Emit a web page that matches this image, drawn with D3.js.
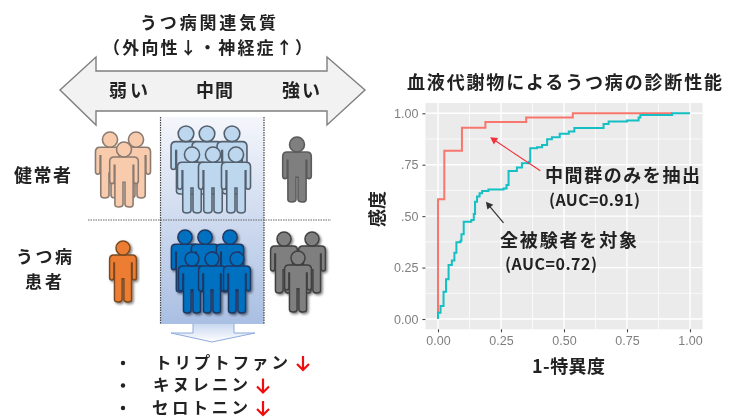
<!DOCTYPE html>
<html>
<head>
<meta charset="utf-8">
<script src="https://cdn.jsdelivr.net/npm/d3@7"></script>
<style>
  html, body { margin: 0; padding: 0; background: #fff; }
  svg { display: block; }
  text { font-family: "Noto Sans CJK JP", "Noto Sans", sans-serif; }
</style>
</head>
<body>
<svg id="chart"></svg>
<script>
// ROC curves
const midFpr = [0, 0, 0.025, 0.095, 0.188, 0.35, 0.535, 0.93];
const midTpr = [0, 0.582, 0.818, 0.93, 0.958, 0.979, 1, 1];
const allFpr = [0, 0, 0.01, 0.022, 0.032, 0.042, 0.055, 0.065, 0.073, 0.089, 0.093, 0.102, 0.132, 0.142, 0.147, 0.155, 0.165, 0.175, 0.2, 0.26, 0.272, 0.28, 0.313, 0.333, 0.36, 0.366, 0.393, 0.413, 0.433, 0.452, 0.483, 0.519, 0.541, 0.657, 0.677, 0.75, 0.796, 0.803, 0.836, 0.929, 1];
const allTpr = [0, 0.03, 0.063, 0.133, 0.193, 0.263, 0.284, 0.322, 0.373, 0.381, 0.412, 0.473, 0.481, 0.51, 0.57, 0.595, 0.611, 0.622, 0.63, 0.635, 0.652, 0.72, 0.737, 0.757, 0.765, 0.83, 0.835, 0.846, 0.874, 0.883, 0.9, 0.911, 0.929, 0.948, 0.96, 0.965, 0.98, 0.992, 0.992, 1, 1];
const majorTicks = [0, 0.25, 0.5, 0.75, 1];
const minorTicks = [0.125, 0.375, 0.625, 0.875];
const xTickLabels = ['0.00', '0.25', '0.50', '0.75', '1.00'];
const yTickLabels = ['0.00', '0.25', '.50', '.75', '1.00'];
const metabolites = ['トリプトファン', 'キヌレニン', 'セロトニン'];

const width = 734;
const height = 418;
const font = 'bold';

const svg = d3.select('#chart').attr('width', width).attr('height', height);
const defs = svg.append('defs');

// the reference is a soft, upscaled image
defs.append('filter').attr('id', 'soft')
  .attr('filterUnits', 'userSpaceOnUse')
  .attr('x', 0).attr('y', 0).attr('width', width).attr('height', height)
  .append('feGaussianBlur').attr('stdDeviation', 0.6);

defs.append('filter').attr('id', 'shadow')
  .append('feDropShadow')
  .attr('dx', 1.5).attr('dy', 1.5).attr('stdDeviation', 1.3)
  .attr('flood-color', '#000').attr('flood-opacity', 0.5);

const bandGrad = defs.append('linearGradient').attr('id', 'band')
  .attr('x1', 0).attr('y1', 0).attr('x2', 0).attr('y2', 1);
bandGrad.append('stop').attr('offset', 0).attr('stop-color', '#f4f6fb');
bandGrad.append('stop').attr('offset', 1).attr('stop-color', '#a9bfe3');

const downGrad = defs.append('linearGradient').attr('id', 'down')
  .attr('x1', 0).attr('y1', 0).attr('x2', 0).attr('y2', 1);
downGrad.append('stop').attr('offset', 0).attr('stop-color', '#c9d8f0');
downGrad.append('stop').attr('offset', 1).attr('stop-color', '#ffffff');

const root = svg.append('g').attr('filter', 'url(#soft)');

function label(g, txt, x, y, size, w, color) {
  return g.append('text')
    .attr('x', x).attr('y', y).attr('dy', '.36em')
    .attr('font-size', size).attr('font-weight', font)
    .attr('fill', color || '#222')
    .attr('textLength', w).attr('lengthAdjust', 'spacing')
    .text(txt);
}

// ---- left: temperament diagram ----
const left = root.append('g');

left.append('path')
  .attr('d', 'M60,90 L96,57 V71 H327 V57 L365,90 L327,125 V111 H96 V125 Z')
  .attr('fill', '#f2f2f2').attr('stroke', '#7f7f7f').attr('stroke-width', 1.4);

left.append('rect')
  .attr('x', 160.5).attr('y', 117).attr('width', 103.5).attr('height', 207)
  .attr('fill', 'url(#band)');
left.selectAll('line.edge').data([160.5, 264]).join('line')
  .attr('class', 'edge')
  .attr('x1', d => d).attr('x2', d => d).attr('y1', 117).attr('y2', 324)
  .attr('stroke', '#444').attr('stroke-width', 1.2).attr('stroke-dasharray', '1.5 1');
left.append('line')
  .attr('x1', 88).attr('x2', 331).attr('y1', 220).attr('y2', 220)
  .attr('stroke', '#666').attr('stroke-width', 1.2).attr('stroke-dasharray', '1.5 1');

left.append('path')
  .attr('d', 'M193,324 V333 H171 L212,342 L255,333 H234 V324')
  .attr('fill', 'url(#down)').attr('stroke', '#8faadc').attr('stroke-width', 1);

const personBody = 'M-15,23 H15 Q22,23 22,30 V60 Q22,64 18.5,64 Q15,64 15,60 V36 H14 V96 Q14,100 8,100 Q2,100 1.5,96 V62 H-1.5 V96 Q-2,100 -8,100 Q-14,100 -14,96 V36 H-15 V60 Q-15,64 -18.5,64 Q-22,64 -22,60 V30 Q-22,23 -15,23 Z';

function people(list, fill, stroke, shadow) {
  const g = left.append('g');
  if (shadow) g.attr('filter', 'url(#shadow)');
  const p = g.selectAll('g').data(list).join('g')
    .attr('transform', d => `translate(${d[0]},${d[1]}) scale(${d[2] / 100})`);
  p.append('path').attr('d', personBody)
    .attr('fill', fill).attr('stroke', stroke).attr('stroke-width', 2.4);
  p.append('circle').attr('cy', 11.5).attr('r', 11.5)
    .attr('fill', fill).attr('stroke', stroke).attr('stroke-width', 2.4);
}

// [centre x, top y, height], back row first
people([[110, 132, 66], [136, 132, 66], [124, 142, 65]], '#f8cbad', '#8a7a70');
people([[186, 126, 68], [207, 126, 68], [232, 126, 68], [192, 147, 66], [213, 147, 66], [236, 147, 66]], '#bdd7ee', '#55616e');
people([[297, 137, 65]], '#7f7f7f', '#5a5a5a');
people([[123, 241, 61]], '#ed7d31', '#7a4a20', true);
people([[185, 230, 62], [205, 230, 62], [230, 230, 62], [192, 252, 61], [212, 252, 61], [237, 252, 61]], '#0070c0', '#1f3864', true);
people([[284, 232, 61], [312, 232, 61], [298, 251, 61]], '#7f7f7f', '#3f3f3f', true);

label(left, 'うつ病関連気質', 140, 23, 17, 136);
label(left, '（外向性↓・神経症↑）', 103, 47.5, 17, 209);
label(left, '弱い', 109, 91, 18, 39);
label(left, '中間', 196, 91, 18, 37);
label(left, '強い', 282, 91, 18, 38);
label(left, '健常者', 14, 176, 18, 57);
label(left, 'うつ病', 16, 257, 17, 56);
label(left, '患者', 25, 281.5, 17, 37);

const listY = d3.scalePoint().domain(metabolites).range([363, 408]);
const listW = { 'トリプトファン': 133, 'キヌレニン': 95, 'セロトニン': 96 };
const listX = { 'トリプトファン': 155, 'キヌレニン': 153, 'セロトニン': 152 };

metabolites.forEach(m => {
  const y = listY(m);
  left.append('circle').attr('cx', 123).attr('cy', y).attr('r', 2.2).attr('fill', '#222');
  label(left, m, listX[m], y, 16.5, listW[m]);
  const ax = listX[m] + listW[m] + 15;
  left.append('path')
    .attr('d', `M${ax},${y - 7} V${y + 7} M${ax - 6},${y + 1} L${ax},${y + 7} L${ax + 6},${y + 1}`)
    .attr('fill', 'none').attr('stroke', '#f01010').attr('stroke-width', 2.2);
});

// ---- right: ROC plot ----
const x = d3.scaleLinear().domain([-0.05, 1.05]).range([425.4, 702.6]);
const y = d3.scaleLinear().domain([-0.05, 1.05]).range([329.3, 103]);

const plot = root.append('g');
plot.append('rect')
  .attr('x', x.range()[0]).attr('y', y.range()[1])
  .attr('width', x.range()[1] - x.range()[0])
  .attr('height', y.range()[0] - y.range()[1])
  .attr('fill', '#ebebeb');

function grid(ticks, w) {
  plot.selectAll(null).data(ticks).join('line')
    .attr('x1', d => x(d)).attr('x2', d => x(d))
    .attr('y1', y.range()[0]).attr('y2', y.range()[1])
    .attr('stroke', '#fff').attr('stroke-width', w);
  plot.selectAll(null).data(ticks).join('line')
    .attr('y1', d => y(d)).attr('y2', d => y(d))
    .attr('x1', x.range()[0]).attr('x2', x.range()[1])
    .attr('stroke', '#fff').attr('stroke-width', w);
}
grid(minorTicks, 0.7);
grid(majorTicks, 1.4);

const xAxis = plot.append('g')
  .attr('transform', `translate(0,${y.range()[0]})`)
  .call(d3.axisBottom(x).tickValues(majorTicks).tickSize(3).tickPadding(4)
    .tickFormat((d, i) => xTickLabels[i]));
const yAxis = plot.append('g')
  .attr('transform', `translate(${x.range()[0]},0)`)
  .call(d3.axisLeft(y).tickValues(majorTicks).tickSize(3).tickPadding(4)
    .tickFormat((d, i) => yTickLabels[i]));
[xAxis, yAxis].forEach(a => {
  a.select('.domain').remove();
  a.selectAll('.tick line').attr('stroke', '#444').attr('stroke-width', 1.1);
  a.selectAll('.tick text')
    .attr('fill', '#7f7f7f')
    .attr('font-size', 12.5)
    .style('font-family', '"Liberation Sans", Arial, sans-serif');
});

const roc = d3.line().x(d => x(d[0])).y(d => y(d[1])).curve(d3.curveStepAfter);

plot.append('path')
  .attr('d', roc(d3.zip(midFpr, midTpr)))
  .attr('fill', 'none').attr('stroke', '#F8766D').attr('stroke-width', 2);
plot.append('path')
  .attr('d', roc(d3.zip(allFpr, allTpr)))
  .attr('fill', 'none').attr('stroke', '#12bfc4').attr('stroke-width', 2);

function pointer(x0, y0, x1, y1, color) {
  const a = Math.atan2(y(y1) - y(y0), x(x1) - x(x0));
  const tip = [x(x1), y(y1)];
  const s = 8;
  const corner = o => [tip[0] - s * Math.cos(a + o), tip[1] - s * Math.sin(a + o)];
  plot.append('line')
    .attr('x1', x(x0)).attr('y1', y(y0))
    .attr('x2', tip[0] - 5 * Math.cos(a)).attr('y2', tip[1] - 5 * Math.sin(a))
    .attr('stroke', color).attr('stroke-width', 1.2);
  plot.append('path')
    .attr('d', d3.line()([tip, corner(0.5), corner(-0.5)]) + 'Z')
    .attr('fill', color);
}
pointer(0.406, 0.721, 0.207, 0.883, '#f2303a');
pointer(0.26, 0.467, 0.19, 0.57, '#333');

label(plot, '血液代謝物によるうつ病の診断性能', 407, 83, 18, 315);
label(plot, '中間群のみを抽出', 545, 176, 18, 155);
label(plot, '(AUC=0.91)', 549, 200, 16, 91);
label(plot, '全被験者を対象', 500, 241, 18, 137);
label(plot, '(AUC=0.72)', 505, 264, 16, 92);
label(plot, '1-特異度', 532, 367, 18, 73);

plot.append('text')
  .attr('transform', 'translate(378,209) rotate(-90)')
  .attr('text-anchor', 'middle').attr('dy', '.36em')
  .attr('font-size', 18).attr('font-weight', font).attr('fill', '#222')
  .text('感度');
</script>
</body>
</html>
